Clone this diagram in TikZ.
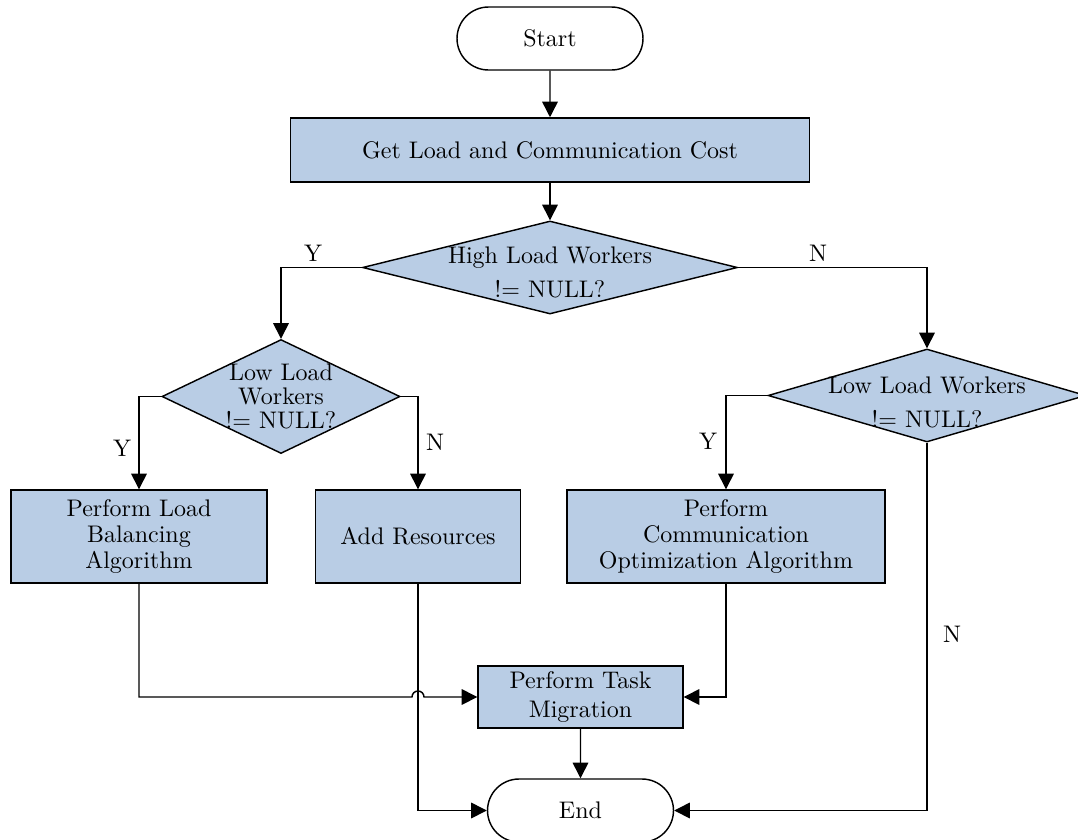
\documentclass[tikz,border=0pt]{standalone}
\usetikzlibrary{shapes.geometric,shapes.misc,arrows.meta,calc}
\definecolor{boxblue}{RGB}{185,205,229}
\begin{document}
\begin{tikzpicture}[x=0.4167pt,y=-0.4167pt,
  line width=0.6pt,
  term/.style={draw, rounded rectangle, minimum width=77.5pt, minimum height=26.25pt, inner sep=0pt, fill=white},
  proc/.style={draw, fill=boxblue, rectangle, align=center, inner sep=0pt},
  dia/.style={draw, fill=boxblue, diamond, inner sep=0pt},
  arr/.style={-{Triangle[length=6.5pt,width=6.5pt]}},
  lab/.style={inner sep=0pt}
]
\useasboundingbox (0,0) rectangle (1078,839);
\node[term] (start) at (550,38.5) {Start};
\node[proc, minimum width=216.3pt, minimum height=26.7pt] (get) at (550,150) {Get Load and Communication Cost};
\node[dia, minimum width=156.25pt, minimum height=38.75pt,
  label={[align=center,yshift=-2pt]center:High Load Workers\\[2pt]!$=$ NULL?}] (d1) at (550,267.5) {};
\node[dia, minimum width=99.2pt, minimum height=47.5pt,
  label={[align=center]center:Low Load\\[-2pt]Workers\\[-2pt]!$=$ NULL?}] (d2) at (281,396.5) {};
\node[dia, minimum width=132.5pt, minimum height=38.75pt,
  label={[align=center,yshift=-3pt]center:Low Load Workers\\[2pt]!$=$ NULL?}] (d3) at (927,395.5) {};
\node[proc, minimum width=106.7pt, minimum height=38.75pt] (r1) at (139,536.5) {Perform Load\\[-1pt]Balancing\\[-1pt]Algorithm};
\node[proc, minimum width=85.4pt, minimum height=38.75pt] (r2) at (418,536.5) {Add Resources};
\node[proc, minimum width=132.5pt, minimum height=38.75pt] (r3) at (726,536.5) {Perform\\[-1pt]Communication\\[-1pt]Optimization Algorithm};
\node[proc, minimum width=85.4pt, minimum height=25.8pt] (r4) at (580.5,697) {Perform Task\\Migration};
\node[term] (end) at (580.5,810.5) {End};

\node[lab] (ly1) at (313,253) {Y};
\node[lab] (ln1) at (818,253) {N};
\node[lab] (ly2) at (122,448) {Y};
\node[lab] (ln2) at (435,442) {N};
\node[lab] (ly3) at (708,441) {Y};
\node[lab] (ln3) at (952,634) {N};

\draw[arr] (start) -- (get);
\draw[arr] (get) -- (d1);
\draw[arr] (d1.west) -| (d2.north);
\draw[arr] (d1.east) -| (d3.north);
\draw[arr] (d2.west) -| (r1.north);
\draw[arr] (d2.east) -| (r2.north);
\draw[arr] (d3.west) -| (r3.north);
\draw[arr] (d3.south) |- (end.east);
\draw[arr] (r1.south) |- ($(r2.south |- r4.west)+(-2.5pt,0)$) arc[start angle=180,end angle=0,radius=2.5pt] -- (r4.west);
\draw[arr] (r2.south) |- (end.west);
\draw[arr] (r3.south) |- (r4.east);
\draw[arr] (r4) -- (end);
\end{tikzpicture}
\end{document}
